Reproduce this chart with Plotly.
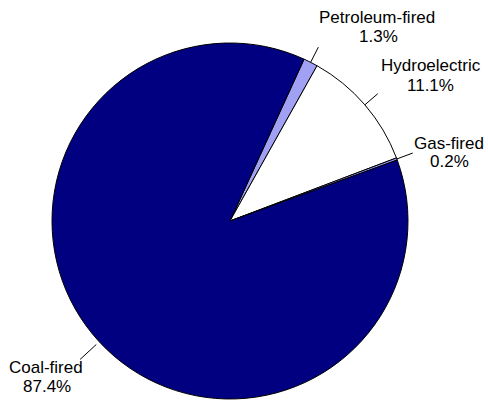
import math
import plotly.graph_objects as go

# ---- data ----
labels = ["Petroleum-fired", "Hydroelectric", "Gas-fired", "Coal-fired"]
values = [1.3, 11.1, 0.2, 87.4]
pct_text = ["1.3%", "11.1%", "0.2%", "87.4%"]
colors = ["#A0A0F4", "#FFFFFF", "#9999FF", "#000080"]

# ---- layout / style ----
W, H = 488, 400
CX, CY, R = 230, 221, 178          # pie centre / radius (px)
ROTATION = 24.6                    # start angle of first slice (clockwise from 12 o'clock)
# leader line radii per slice
leader_r = [(178, 195), (178, 195), (178, 195), (182, 204)]
# label line centres relative to the leader end (px): (dx1, dy1, dx2, dy2)
label_off = [(59, -29.5, 60, -10.5),
             (53, -28.5, 53, -8),
             (36, -10, 37, 8),
             (-34, 8, -33, 27)]
FONT = dict(family="Arial, Liberation Sans, sans-serif", size=17, color="black")

fig = go.Figure(go.Pie(
    labels=labels, values=values, sort=False, direction="clockwise",
    rotation=ROTATION, textinfo="none", hoverinfo="skip",
    marker=dict(colors=colors, line=dict(color="black", width=1)),
    domain=dict(x=[(CX - R) / W, (CX + R) / W],
                y=[(H - CY - R) / H, (H - CY + R) / H]),
    showlegend=False,
))

def to_paper(px, py):
    return px / W, 1 - py / H

total = sum(values)
cum = 0.0
shapes, annotations = [], []
for lab, val, pt, (r0, r1), off in zip(labels, values, pct_text, leader_r, label_off):
    mid = math.radians(ROTATION + (cum + val / 2) / total * 360)
    cum += val
    x0, y0 = CX + r0 * math.sin(mid), CY - r0 * math.cos(mid)
    x1, y1 = CX + r1 * math.sin(mid), CY - r1 * math.cos(mid)
    p0, p1 = to_paper(x0, y0), to_paper(x1, y1)
    shapes.append(dict(type="line", xref="paper", yref="paper",
                       x0=p0[0], y0=p0[1], x1=p1[0], y1=p1[1],
                       line=dict(color="black", width=1)))
    dx1, dy1, dx2, dy2 = off
    for txt, dx, dy in ((lab, dx1, dy1), (pt, dx2, dy2)):
        q = to_paper(x1 + dx, y1 + dy)
        annotations.append(dict(xref="paper", yref="paper", x=q[0], y=q[1],
                                text=txt, showarrow=False,
                                xanchor="center", yanchor="middle",
                                font=FONT))

fig.update_layout(width=W, height=H, margin=dict(l=0, r=0, t=0, b=0),
                  paper_bgcolor="white", plot_bgcolor="white",
                  shapes=shapes, annotations=annotations)
fig.write_html("out.html", config={"displayModeBar": False},
               post_script="document.body.style.margin='0';document.body.style.overflow='hidden';")
